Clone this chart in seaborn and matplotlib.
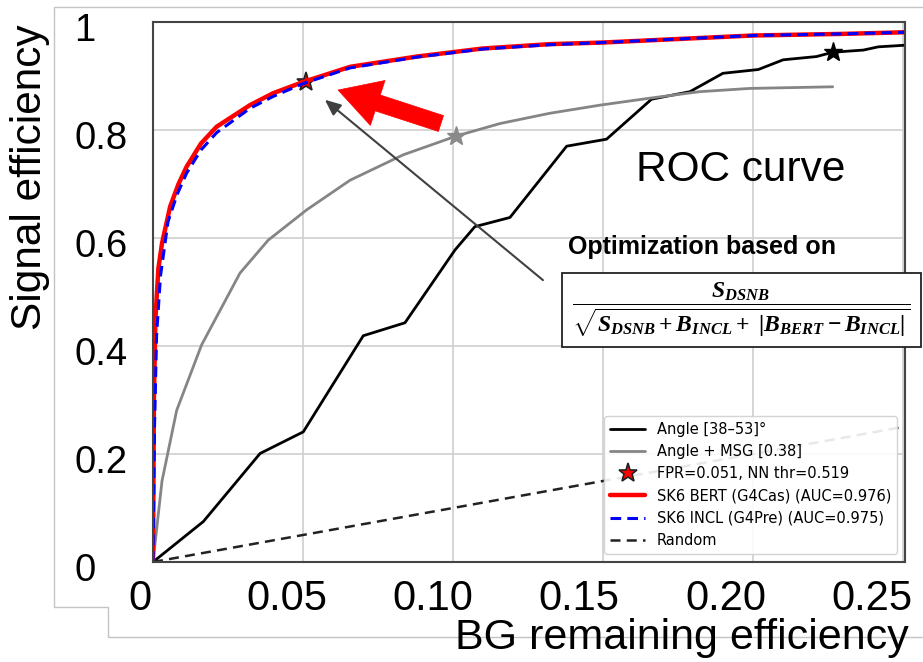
import numpy as np
import pandas as pd
import seaborn as sns
import matplotlib.pyplot as plt
import matplotlib.transforms as mtransforms
from matplotlib.lines import Line2D
from matplotlib.patches import Rectangle

# ROC curves
fpr_bert = [0, 0.0003, 0.0008, 0.0018, 0.003, 0.0057, 0.0085, 0.0112, 0.016, 0.0212,
            0.0323, 0.04, 0.0501, 0.0657, 0.0879, 0.11, 0.1323, 0.15, 0.2, 0.23, 0.2507]
tpr_bert = [0, 0.30, 0.45, 0.544, 0.59, 0.658, 0.70, 0.732, 0.775, 0.806,
            0.846, 0.868, 0.889, 0.917, 0.936, 0.951, 0.959, 0.962, 0.975, 0.978, 0.981]

fpr_incl = [0, 0.0005, 0.0012, 0.0025, 0.005, 0.008, 0.0112, 0.016, 0.0212,
            0.0323, 0.04, 0.0501, 0.0657, 0.0879, 0.11, 0.1323, 0.15, 0.2, 0.23, 0.2507]
tpr_incl = [0, 0.25, 0.42, 0.53, 0.63, 0.68, 0.72, 0.763, 0.795,
            0.84, 0.862, 0.886, 0.915, 0.935, 0.950, 0.958, 0.962, 0.975, 0.978, 0.981]

fpr_angle = [0, 0.0168, 0.0357, 0.0501, 0.0701, 0.084, 0.1007, 0.1073, 0.119, 0.1379,
             0.1512, 0.1662, 0.179, 0.190, 0.2018, 0.2101, 0.2212, 0.2266, 0.2368, 0.2418, 0.2507]
tpr_angle = [0, 0.075, 0.201, 0.241, 0.419, 0.443, 0.578, 0.621, 0.638, 0.770,
             0.783, 0.857, 0.871, 0.905, 0.912, 0.930, 0.936, 0.944, 0.948, 0.954, 0.957]

fpr_msg = [0, 0.003, 0.0079, 0.0162, 0.029, 0.0384, 0.0512, 0.0657, 0.0834, 0.1012,
           0.1157, 0.1323, 0.149, 0.1657, 0.1823, 0.199, 0.2266]
tpr_msg = [0, 0.15, 0.281, 0.402, 0.535, 0.596, 0.652, 0.707, 0.754, 0.789,
           0.812, 0.831, 0.846, 0.859, 0.871, 0.877, 0.880]

fpr_random = [0, 0.2507]
tpr_random = [0, 0.2507]

star_nn = (0.051, 0.889)
star_msg = (0.101, 0.789)
star_angle = (0.2266, 0.944)

xticks = [0, 0.05, 0.10, 0.15, 0.20, 0.25]
xticklabels = ['0', '0.05', '0.10', '0.15', '0.20', '0.25']
yticks = [0, 0.2, 0.4, 0.6, 0.8, 1.0]
yticklabels = ['0', '0.2', '0.4', '0.6', '0.8', '1']

labels = ['Angle [38\u201353]\u00b0', 'Angle + MSG [0.38]', 'FPR=0.051, NN thr=0.519',
          'SK6 BERT (G4Cas) (AUC=0.976)', 'SK6 INCL (G4Pre) (AUC=0.975)', 'Random']

sns.set_theme(style='whitegrid')
plt.rcParams['font.family'] = ['Liberation Sans', 'DejaVu Sans']
plt.rcParams['text.color'] = 'black'
plt.rcParams['xtick.labelcolor'] = 'black'
plt.rcParams['ytick.labelcolor'] = 'black'
plt.rcParams['mathtext.fontset'] = 'custom'
plt.rcParams['mathtext.it'] = 'Liberation Serif:bold:italic'
plt.rcParams['mathtext.rm'] = 'Liberation Serif:bold'
plt.rcParams['mathtext.bf'] = 'Liberation Serif:bold'

W, H = 923, 662
fig = plt.figure(figsize=(W / 100, H / 100), dpi=100)
fig.patch.set_facecolor('white')
ax = fig.add_axes([153 / W, 100 / H, 752 / W, 540 / H])
ax.set_facecolor('white')

sns.lineplot(x=fpr_angle, y=tpr_angle, ax=ax, color='black', lw=2, label=labels[0],
             sort=False, estimator=None)
sns.lineplot(x=fpr_msg, y=tpr_msg, ax=ax, color='#858585', lw=2, label=labels[1],
             sort=False, estimator=None)
ax.plot([star_nn[0]], [star_nn[1]], ls='none', marker='*', ms=14, mfc='red', mec='#222222',
        mew=1.2, label=labels[2], zorder=2)
ax.plot([star_msg[0]], [star_msg[1]], ls='none', marker='*', ms=14, color='#8a8a8a', zorder=4)
ax.plot([star_angle[0]], [star_angle[1]], ls='none', marker='*', ms=14, color='black', zorder=4)
sns.lineplot(x=fpr_bert, y=tpr_bert, ax=ax, color='red', lw=3.2, label=labels[3],
             sort=False, estimator=None)
sns.lineplot(x=fpr_incl, y=tpr_incl, ax=ax, color='blue', lw=2.2, ls=(0, (3.5, 2)), label=labels[4],
             sort=False, estimator=None)
sns.lineplot(x=fpr_random, y=tpr_random, ax=ax, color='#222222', lw=1.8, ls=(0, (4, 2.5)),
             label=labels[5], sort=False, estimator=None)

ax.set_xlim(0, 0.2507)
ax.set_ylim(0, 1.0)
ax.set_xticks(xticks, xticklabels)
ax.set_yticks(yticks, yticklabels)
ax.grid(True, color='#d2d2d2', lw=1.3)
for s in ax.spines.values():
    s.set_color('#444444')
    s.set_linewidth(1.5)
ax.tick_params(axis='both', direction='out', length=4, width=1.2, color='#444444')
ax.tick_params(axis='x', labelsize=30, pad=8)
ax.tick_params(axis='y', labelsize=27.5, pad=51)
# the pasted tick labels drift left of their ticks towards the right end
for lbl, xv in zip(ax.get_xticklabels(), xticks):
    dx = -(13 + 18 * xv / 0.25) / 100
    lbl.set_transform(lbl.get_transform() + mtransforms.ScaledTranslation(dx, 0, fig.dpi_scale_trans))
yshift = mtransforms.ScaledTranslation(-0.02, -0.05, fig.dpi_scale_trans)
for lbl in ax.get_yticklabels():
    lbl.set_horizontalalignment('left')
    lbl.set_transform(lbl.get_transform() + yshift)
ax.set_xlabel('')
ax.set_ylabel('')

ax.legend(loc='lower right', prop={'family': 'DejaVu Sans', 'size': 10.5}, frameon=True,
          edgecolor='#d0d0d0', facecolor='white', framealpha=0.9, borderaxespad=0.55,
          handlelength=2.4, labelspacing=0.5)

# annotations
ax.annotate('', xy=(0.0573, 0.856), xytext=(0.1300, 0.522),
            arrowprops=dict(arrowstyle='-|>,head_length=0.8,head_width=0.35', color='#404040',
                            lw=1.5, shrinkA=0, shrinkB=0))
ax.annotate('', xy=(0.0617, 0.874), xytext=(0.0960, 0.812),
            arrowprops=dict(arrowstyle='simple,head_length=30,head_width=34,tail_width=12',
                            mutation_scale=1, fc='red', ec='red', lw=0.5, shrinkA=0, shrinkB=0))

fig.text(741 / W, 1 - 170 / H, 'ROC curve', fontsize=30.5, ha='center', va='center')
fig.text(702 / W, 1 - 247 / H, 'Optimization based on', fontsize=18, fontweight='bold',
         ha='center', va='center')
fig.add_artist(Rectangle((562 / W, 1 - 347 / H), 359 / W, 74 / H, transform=fig.transFigure,
                         fc='white', ec='#222222', lw=1.3, zorder=3))
fig.text(741 / W, 1 - 310 / H,
         r'$\dfrac{S_{DSNB}}{\sqrt{S_{DSNB}+B_{INCL}+\ |B_{BERT}-B_{INCL}|}}$',
         fontsize=17, ha='center', va='center', zorder=4)

fig.text(30 / W, 1 - 177 / H, 'Signal efficiency', fontsize=30.5, rotation=90,
         ha='center', va='center')
fig.text(682 / W, 1 - 638 / H, 'BG remaining efficiency', fontsize=31,
         ha='center', va='center')

# screenshot frame lines
frame_kw = dict(transform=fig.transFigure, color='#c4c4c4', lw=1)
fig.add_artist(Line2D([54 / W, 54 / W, 108 / W, 108 / W, 1.0],
                      [1 - 7 / H, 1 - 607 / H, 1 - 607 / H, 1 - 637 / H, 1 - 637 / H], **frame_kw))
fig.add_artist(Line2D([54 / W, 1.0], [1 - 7 / H, 1 - 7 / H], **frame_kw))

fig.savefig('out.png', dpi=100)
